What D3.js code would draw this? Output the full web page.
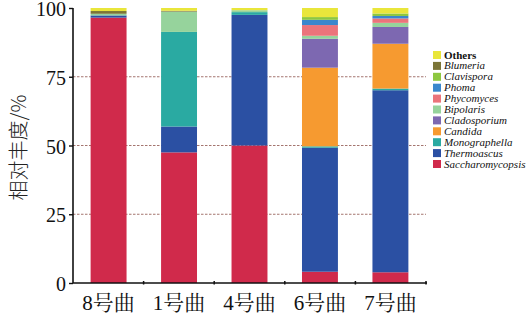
<!DOCTYPE html>
<html>
<head>
<meta charset="utf-8">
<script src="https://cdn.jsdelivr.net/npm/d3@7"></script>
<style>
  html, body { margin: 0; padding: 0; background: #fff; }
  svg { display: block; }
</style>
</head>
<body>
<svg id="chart" width="530" height="322"></svg>
<script>
// Samples (x categories)
const samples = ["8号曲", "1号曲", "4号曲", "6号曲", "7号曲"];

// Genera, bottom of stack first
const genera = ["Saccharomycopsis", "Thermoascus", "Monographella", "Candida", "Cladosporium",
                "Bipolaris", "Phycomyces", "Phoma", "Clavispora", "Blumeria", "Others"];

// Relative abundance (%) per genus, one value per sample in the order above
const Saccharomycopsis = [96.5, 47.5, 50.0, 4.1, 3.9];
const Thermoascus      = [0.8, 9.4, 47.5, 45.1, 66.2];
const Monographella    = [0.0, 34.4, 1.0, 0.5, 0.6];
const Candida          = [0.0, 0.0, 0.0, 28.6, 16.3];
const Cladosporium     = [0.0, 0.0, 0.0, 10.5, 6.1];
const Bipolaris        = [0.6, 7.4, 0.7, 1.1, 1.5];
const Phycomyces       = [0.0, 0.0, 0.0, 3.9, 1.6];
const Phoma            = [0.0, 0.0, 0.0, 1.9, 0.9];
const Clavispora       = [0.0, 0.0, 0.0, 1.0, 0.9];
const Blumeria         = [1.0, 0.3, 0.0, 0.0, 0.0];
const Others           = [1.1, 1.0, 0.8, 3.3, 2.0];

const yTicks = [0, 25, 50, 75, 100];
const gridTicks = [25, 50, 75];

const colors = {
  Saccharomycopsis: "#d02a4b",
  Thermoascus: "#2b50a3",
  Monographella: "#2aaaa2",
  Candida: "#f69a30",
  Cladosporium: "#7d68b1",
  Bipolaris: "#96d39c",
  Phycomyces: "#eb747b",
  Phoma: "#3a87cd",
  Clavispora: "#8dc740",
  Blumeria: "#7b7537",
  Others: "#e9e63b"
};

const seriesValues = { Saccharomycopsis, Thermoascus, Monographella, Candida, Cladosporium,
  Bipolaris, Phycomyces, Phoma, Clavispora, Blumeria, Others };

const table = samples.map((s, i) => {
  const row = { sample: s };
  genera.forEach(g => { row[g] = seriesValues[g][i]; });
  return row;
});

const SERIF = '"Times New Roman", "Liberation Serif"';
const SONG = '"Times New Roman", "Liberation Serif", "Noto Serif CJK SC"';
const HEI = '"Noto Sans CJK SC"';

const svg = d3.select("#chart");

const x0 = 73, x1 = 426, yTop = 8, yBot = 283;

const x = d3.scaleBand().domain(samples).range([x0, x1]).paddingInner(0.49).paddingOuter(0.25);
const y = d3.scaleLinear().domain([0, 100]).range([yBot, yTop]);

// dashed reference lines
svg.append("g").selectAll("line").data(gridTicks).join("line")
  .attr("x1", x0).attr("x2", x1)
  .attr("y1", d => y(d)).attr("y2", d => y(d))
  .attr("stroke", "#a4756f").attr("stroke-width", 1)
  .attr("stroke-dasharray", "2.5,1.5");

// stacked bars
const stack = d3.stack().keys(genera)(table);
svg.append("g").selectAll("g").data(stack).join("g")
  .attr("fill", d => colors[d.key])
  .selectAll("rect").data(d => d).join("rect")
  .attr("x", d => x(d.data.sample))
  .attr("width", x.bandwidth())
  .attr("y", d => y(d[1]))
  .attr("height", d => Math.max(0, y(d[0]) - y(d[1])));

// y axis
const yAxis = svg.append("g").attr("transform", `translate(${x0},0)`)
  .call(d3.axisLeft(y).tickValues(yTicks).tickSize(4).tickPadding(3));
yAxis.attr("font-family", null).attr("font-size", null);
yAxis.select(".domain").attr("stroke", "#111").attr("stroke-width", 1.6)
  .attr("d", `M0,${yTop}V${yBot}`);
yAxis.selectAll(".tick line").attr("stroke", "#111").attr("stroke-width", 1.4);
yAxis.selectAll(".tick text")
  .style("font-family", SERIF).style("font-size", "20px")
  .attr("fill", "#111").attr("dy", "0.38em");

// x axis with ticks between bands
const bounds = d3.range(samples.length + 1).map(i => x0 + i * (x1 - x0) / samples.length);
svg.append("line").attr("x1", x0).attr("x2", x1 + 1).attr("y1", yBot).attr("y2", yBot)
  .attr("stroke", "#111").attr("stroke-width", 1.6);
svg.append("g").selectAll("line").data(bounds.slice(1)).join("line")
  .attr("x1", d => d).attr("x2", d => d)
  .attr("y1", yBot - 2).attr("y2", yBot + 1.5)
  .attr("stroke", "#111").attr("stroke-width", 1.5);
svg.append("g").selectAll("text").data(samples).join("text")
  .attr("x", d => x(d) + x.bandwidth() / 2)
  .attr("y", 310)
  .attr("text-anchor", "middle")
  .style("font-family", SONG).style("font-size", "21px").attr("fill", "#111")
  .text(d => d);

// y axis title
svg.append("text")
  .attr("transform", `translate(26,${(yTop + yBot) / 2 + 2}) rotate(-90)`)
  .attr("text-anchor", "middle")
  .style("font-family", HEI).style("font-weight", 300).style("font-size", "20px")
  .attr("fill", "#222")
  .text("相对丰度/%");

// legend, top entry is the top of the stack
const legendItems = genera.slice().reverse();
const lg = svg.append("g").attr("transform", "translate(433,55)");
const items = lg.selectAll("g").data(legendItems).join("g")
  .attr("transform", (d, i) => `translate(0,${i * 10.9})`);
items.append("rect").attr("x", 0).attr("y", -4).attr("width", 8).attr("height", 8)
  .attr("fill", d => colors[d]);
items.append("text").attr("x", 11).attr("y", 3.5)
  .style("font-family", SERIF).style("font-size", "11px").attr("fill", "#111")
  .style("font-style", d => d === "Others" ? "normal" : "italic")
  .style("font-weight", d => d === "Others" ? "bold" : "normal")
  .text(d => d);
</script>
</body>
</html>
